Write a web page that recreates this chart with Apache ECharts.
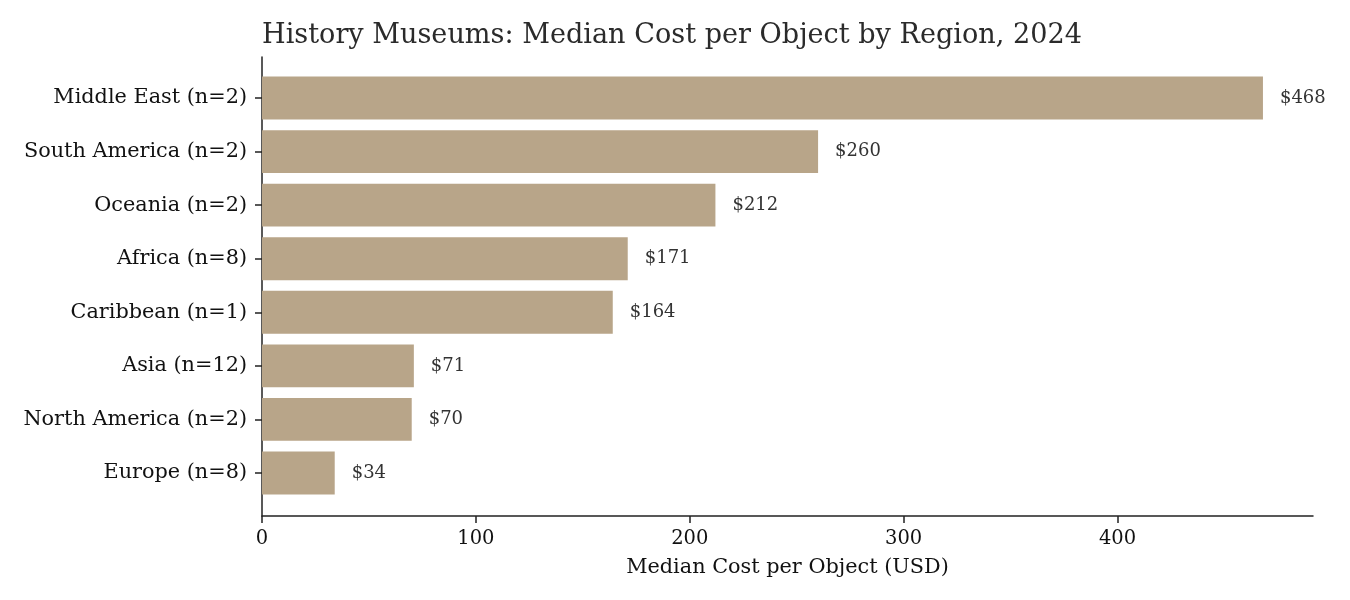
<!DOCTYPE html>
<html>
<head>
<meta charset="utf-8">
<script src="https://cdn.jsdelivr.net/npm/echarts@6/dist/echarts.min.js"></script>
<style>html,body{margin:0;padding:0;background:#fff}#c{width:1350px;height:600px}</style>
</head>
<body>
<div id="c"></div>
<script>
const categories = ['Middle East (n=2)','South America (n=2)','Oceania (n=2)','Africa (n=8)','Caribbean (n=1)','Asia (n=12)','North America (n=2)','Europe (n=8)'];
const values = [468, 260, 212, 171, 164, 71, 70, 34];
const xTicks = [0, 100, 200, 300, 400];
const xMax = 491.4;

const FONT = 'DejaVu Serif';
const chart = echarts.init(document.getElementById('c'), null, {renderer: 'canvas'});
chart.setOption({
  animation: false,
  backgroundColor: '#ffffff',
  title: {
    text: 'History Museums: Median Cost per Object by Region, 2024',
    left: 262, top: 22, padding: 0,
    textStyle: {fontFamily: FONT, fontSize: 27.1, fontWeight: 'normal', color: '#2b2b2b'}
  },
  grid: [
    {left: 262, right: 37, top: 71.25, bottom: 100.25},
    {left: 262, right: 37, top: 57, bottom: 84}
  ],
  xAxis: [
    {gridIndex: 0, type: 'value', min: 0, max: xMax, show: false},
    {gridIndex: 1, type: 'value', min: 0, max: xMax, interval: 100,
     axisLine: {show: true, lineStyle: {color: '#222', width: 1.5}},
     axisTick: {show: true, length: 7, customValues: xTicks, lineStyle: {color: '#222', width: 1.5}},
     axisLabel: {fontFamily: FONT, fontSize: 19.5, color: '#111', margin: 13, customValues: xTicks},
     splitLine: {show: false},
     name: 'Median Cost per Object (USD)', nameLocation: 'middle', nameGap: 41,
     nameTextStyle: {fontFamily: FONT, fontSize: 20.8, color: '#111'}}
  ],
  yAxis: [
    {gridIndex: 0, type: 'category', data: categories, inverse: true,
     axisLine: {show: false},
     axisTick: {show: true, alignWithLabel: true, length: 7, lineStyle: {color: '#222', width: 1.5}},
     axisLabel: {fontFamily: FONT, fontSize: 20.8, color: '#111', margin: 15, padding: [2, 0, 0, 0]}},
    {gridIndex: 1, type: 'value', min: 0, max: 1,
     axisLine: {show: true, lineStyle: {color: '#222', width: 1.5}},
     axisTick: {show: false}, axisLabel: {show: false}, splitLine: {show: false}}
  ],
  series: [{
    type: 'bar', xAxisIndex: 0, yAxisIndex: 0,
    data: values, barWidth: '80%',
    itemStyle: {color: '#b8a589'},
    label: {show: true, position: 'right', distance: 17,
      formatter: p => '$' + p.value,
      fontFamily: FONT, fontSize: 18, color: '#333'}
  }]
});
</script>
</body>
</html>
